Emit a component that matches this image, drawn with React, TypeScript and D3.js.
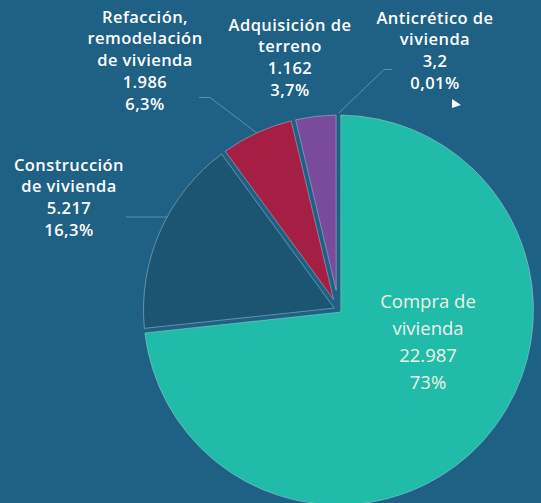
import React from "react";
import * as d3 from "d3";

const categories = [
  "Compra de vivienda",
  "Construcción de vivienda",
  "Refacción, remodelación de vivienda",
  "Adquisición de terreno",
  "Anticrético de vivienda",
];
const values = [22987, 5217, 1986, 1162, 3.2];
const valueLabels = ["22.987", "5.217", "1.986", "1.162", "3,2"];
const percentLabels = ["73%", "16,3%", "6,3%", "3,7%", "0,01%"];
const labelLines = [
  ["Compra de", "vivienda"],
  ["Construcción", "de vivienda"],
  ["Refacción,", "remodelación", "de vivienda"],
  ["Adquisición de", "terreno"],
  ["Anticrético de", "vivienda"],
];
const colors = ["#21bba9", "#1b5571", "#a51f45", "#7a4b9c", "#7a4b9c"];

const W = 541;
const H = 503;
const BG = "#1e6184";
const CX = 338.5;
const CY = 310;
const R = 195;
const GAP = 2.3;

// label anchor (center x, first line center y)
const labelPos: [number, number][] = [
  [428, 302],
  [69, 165],
  [145, 17],
  [290, 25],
  [435, 18],
];

function slicePath(a0: number, a1: number): string | null {
  const span = a1 - a0;
  const h = span / 2;
  const pad = Math.asin(GAP / R);
  if (span <= 2 * pad + 0.002) return null;
  const mid = (a0 + a1) / 2;
  const ux = Math.sin(mid);
  const uy = -Math.cos(mid);
  const dist = GAP / Math.sin(h);
  const px = CX + dist * ux;
  const py = CY + dist * uy;
  const s = a0 + pad;
  const e = a1 - pad;
  const p = d3.path();
  p.moveTo(px, py);
  p.lineTo(CX + R * Math.sin(s), CY - R * Math.cos(s));
  p.arc(CX, CY, R, s - Math.PI / 2, e - Math.PI / 2, false);
  p.closePath();
  return p.toString();
}

export default function App() {
  const pie = d3.pie<number>().sort(null).value((d) => d);
  const arcs = pie(values);

  const fs = 16.5;
  const lh = 21.7;

  // leader lines
  const ref = arcs[2];
  const refMid = (ref.startAngle + ref.endAngle) / 2;
  const refEnd: [number, number] = [CX + R * Math.sin(refMid), CY - R * Math.cos(refMid)];
  const anti = arcs[4];
  const antiMid = (anti.startAngle + anti.endAngle) / 2;
  const antiEnd: [number, number] = [CX + R * Math.sin(antiMid), CY - R * Math.cos(antiMid)];
  const consY = 217;
  const consEnd: [number, number] = [CX - Math.sqrt(R * R - (consY - CY) * (consY - CY)), consY];

  const line = d3.line();
  const leaders = [
    line([[199, 97.5], [210, 97.5], refEnd]),
    line([[392, 69.5], [384, 69.5], [antiEnd[0] + 0.5, antiEnd[1] - 2]]),
    line([[126, consY], consEnd]),
  ];

  return (
    <svg
      width={W}
      height={H}
      style={{ position: "absolute", left: 0, top: 0, background: BG }}
    >
      <rect x={0} y={0} width={W} height={H} fill={BG} />
      {arcs.map((a, i) => {
        const d = slicePath(a.startAngle, a.endAngle);
        if (!d) return null;
        return (
          <path
            key={categories[i]}
            d={d}
            fill={colors[i]}
            stroke="#a9cbd6"
            strokeOpacity={0.55}
            strokeWidth={0.9}
            strokeLinejoin="miter"
          />
        );
      })}
      {leaders.map((d, i) => (
        <path key={i} d={d || ""} fill="none" stroke="#9fbfcc" strokeOpacity={0.5} strokeWidth={1} />
      ))}
      {/* Compra label inside */}
      <g
        fontFamily="'Open Sans', 'DejaVu Sans', sans-serif"
        fontSize={18.5}
        fill="#eef2e4"
        textAnchor="middle"
      >
        {[...labelLines[0], valueLabels[0], percentLabels[0]].map((t, j) => (
          <text key={j} x={labelPos[0][0]} y={labelPos[0][1] + j * 27} dy="0.35em">
            {t}
          </text>
        ))}
      </g>
      <g
        fontFamily="'Open Sans', 'DejaVu Sans', sans-serif"
        fontSize={fs}
        fontWeight={600}
        letterSpacing={0.45}
        fill="#ffffff"
        textAnchor="middle"
      >
        {[1, 2, 3, 4].map((i) =>
          [...labelLines[i], valueLabels[i], percentLabels[i]].map((t, j) => (
            <text key={i + "-" + j} x={labelPos[i][0]} y={labelPos[i][1] + j * lh} dy="0.35em">
              {t}
            </text>
          ))
        )}
      </g>
      <path d="M452,99 L452,108 L461,105 Z" fill="#ffffff" />
    </svg>
  );
}
